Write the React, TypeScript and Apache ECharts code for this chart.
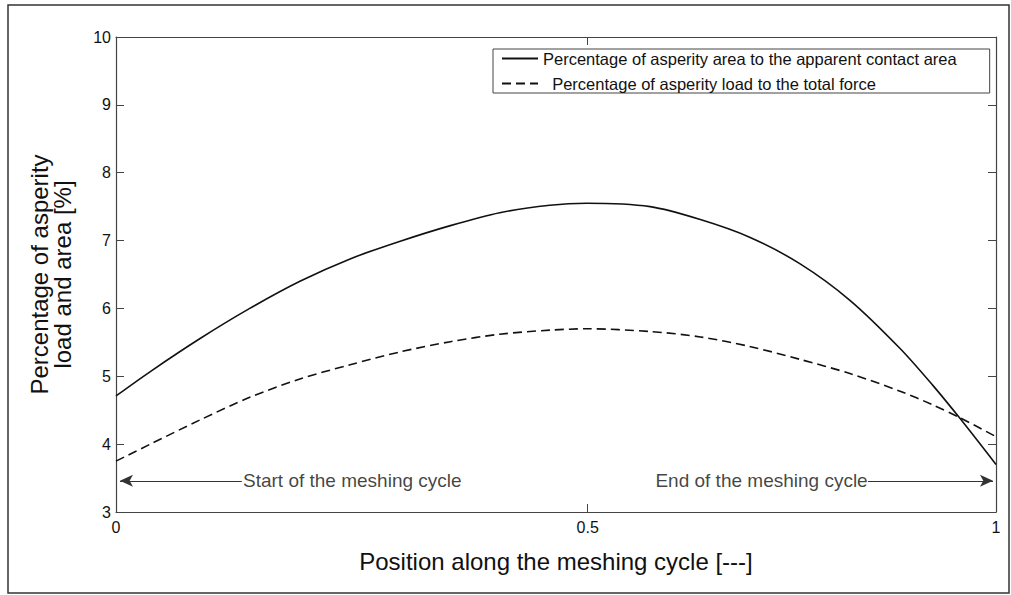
import React, { useEffect, useRef } from "react";
import * as echarts from "echarts";

// ---- data ----
const xPositions = [0, 0.039, 0.096, 0.152, 0.209, 0.266, 0.323, 0.38, 0.436, 0.493, 0.535, 0.607, 0.664, 0.72, 0.777, 0.834, 0.891, 0.928, 0.959, 1.0];
const areaPercent = [4.71, 5.07, 5.56, 6.0, 6.4, 6.73, 6.99, 7.22, 7.41, 7.52, 7.55, 7.5, 7.31, 7.05, 6.66, 6.12, 5.41, 4.87, 4.38, 3.7];
const loadPercent = [3.75, 4.0, 4.36, 4.69, 4.96, 5.17, 5.36, 5.51, 5.62, 5.68, 5.7, 5.66, 5.58, 5.44, 5.25, 5.04, 4.78, 4.58, 4.39, 4.11];

const seriesNames = [
  "Percentage of asperity area to the apparent contact area",
  "Percentage of asperity load to the total force",
];

const xTickPositions = [0, 0.536, 1];
const xTickLabels = ["0", "0.5", "1"];
const yMin = 3;
const yMax = 10;
const yInterval = 1;

const xAxisName = "Position along the meshing cycle [---]";
const yAxisName = "Percentage of asperity\nload and area [%]";

const annotationTexts = ["Start of the meshing cycle", "End of the meshing cycle"];
const annotationY = 3.46;
const annotationTextX = [0.1443, 0.8542];
const arrowFromX = [0.143, 0.8545];
const arrowToX = [0.0045, 0.9966];

const FONT = "'Liberation Sans', Arial, Helvetica, sans-serif";
const AXIS_COLOR = "#444";
const INK = "#111";

export default function App() {
  const ref = useRef<HTMLDivElement>(null);

  useEffect(() => {
    if (!ref.current) return;
    const chart = echarts.init(ref.current, null, { renderer: "svg" });

    const tickLabel = (v: number) => {
      const i = xTickPositions.findIndex((p) => Math.abs(p - v) < 1e-6);
      return i >= 0 ? xTickLabels[i] : "";
    };

    const axisLine = { show: true, onZero: false, lineStyle: { color: AXIS_COLOR, width: 1.2 } };

    chart.setOption({
      animation: false,
      backgroundColor: "#fff",
      textStyle: { fontFamily: FONT },
      grid: { left: 116, right: 15, top: 37, bottom: 83 },
      graphic: [
        {
          type: "rect",
          silent: true,
          shape: { x: 8, y: 5, width: 1001, height: 588 },
          style: { fill: "none", stroke: "#333", lineWidth: 1.5 },
        },
      ],
      legend: {
        data: seriesNames,
        orient: "vertical",
        left: 493,
        top: 49,
        padding: [1, 33, 1, 8],
        itemGap: 8,
        itemWidth: 36,
        itemHeight: 14,
        borderColor: AXIS_COLOR,
        borderWidth: 1,
        backgroundColor: "#fff",
        itemStyle: { opacity: 0 },
        formatter: (name: string) => (name === seriesNames[1] ? "\u00a0\u00a0" + name : name),
        textStyle: { fontSize: 16.5, color: INK, lineHeight: 17, fontFamily: FONT },
      },
      xAxis: [
        {
          type: "value",
          min: 0,
          max: 1,
          position: "bottom",
          axisLine,
          axisTick: { show: true, inside: true, length: 8, customValues: xTickPositions, lineStyle: { color: AXIS_COLOR } },
          axisLabel: { customValues: xTickPositions, formatter: tickLabel, fontSize: 16, color: INK, margin: 7 },
          splitLine: { show: false },
          name: xAxisName,
          nameLocation: "middle",
          nameGap: 37,
          nameTextStyle: { fontSize: 24, color: INK },
        },
        {
          type: "value",
          min: 0,
          max: 1,
          position: "top",
          axisLine,
          axisTick: { show: true, inside: true, length: 8, customValues: xTickPositions, lineStyle: { color: AXIS_COLOR } },
          axisLabel: { show: false },
          splitLine: { show: false },
        },
      ],
      yAxis: [
        {
          type: "value",
          min: yMin,
          max: yMax,
          interval: yInterval,
          position: "left",
          axisLine,
          axisTick: { show: true, inside: true, length: 8, lineStyle: { color: AXIS_COLOR } },
          axisLabel: { fontSize: 16, color: INK, margin: 5 },
          splitLine: { show: false },
          name: yAxisName,
          nameLocation: "middle",
          nameRotate: 90,
          nameGap: 42,
          nameTextStyle: { fontSize: 24, color: INK, lineHeight: 23 },
        },
        {
          type: "value",
          min: yMin,
          max: yMax,
          interval: yInterval,
          position: "right",
          axisLine,
          axisTick: { show: true, inside: true, length: 8, lineStyle: { color: AXIS_COLOR } },
          axisLabel: { show: false },
          splitLine: { show: false },
        },
      ],
      series: [
        {
          name: seriesNames[0],
          type: "line",
          data: xPositions.map((x, i) => [x, areaPercent[i]]),
          symbol: "none",
          smooth: 0.3,
          color: INK,
          lineStyle: { color: INK, width: 1.6, type: "solid" },
        },
        {
          name: seriesNames[1],
          type: "line",
          data: xPositions.map((x, i) => [x, loadPercent[i]]),
          symbol: "none",
          smooth: 0.3,
          color: INK,
          lineStyle: { color: INK, width: 1.6, type: [9, 5] },
        },
        {
          name: "annotations",
          type: "scatter",
          silent: true,
          symbolSize: 0,
          data: annotationTexts.map((t, i) => ({
            value: [annotationTextX[i], annotationY],
            label: {
              show: true,
              formatter: t,
              position: i === 0 ? "right" : "left",
              distance: 0,
              fontSize: 19,
              color: INK,
            },
          })),
          markLine: {
            silent: true,
            symbol: ["none", "arrow"],
            symbolSize: [9, 13],
            label: { show: false },
            lineStyle: { color: "#333", width: 1, type: "solid" },
            data: arrowFromX.map((x, i) => [
              { coord: [x, annotationY] },
              { coord: [arrowToX[i], annotationY] },
            ]),
          },
        },
      ],
    });

    return () => chart.dispose();
  }, []);

  return (
    <div
      ref={ref}
      style={{ position: "fixed", left: 0, top: 0, width: 1011, height: 595, background: "#fff" }}
    />
  );
}
